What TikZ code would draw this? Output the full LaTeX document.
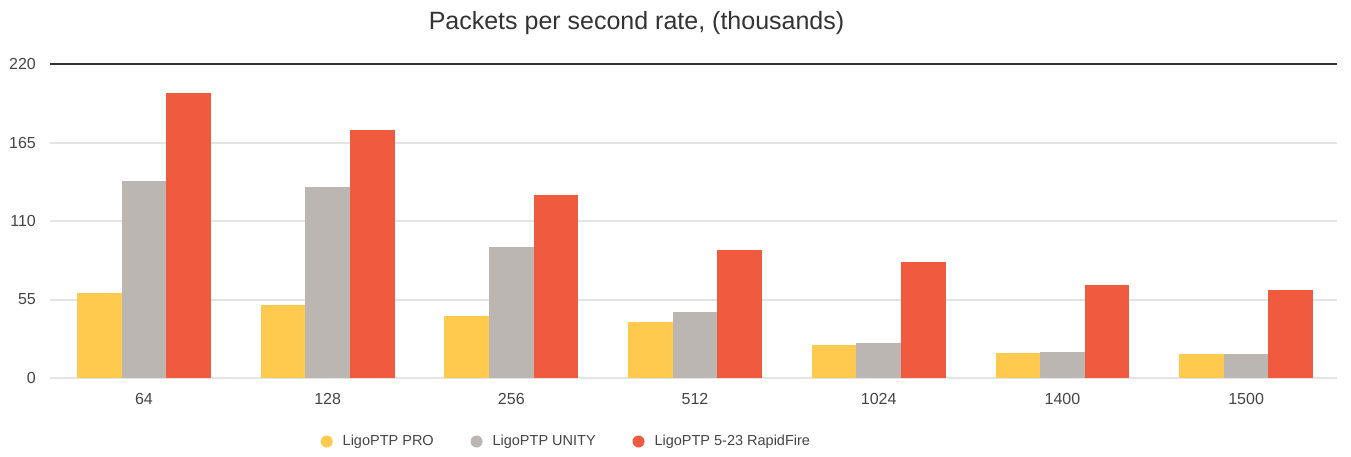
\documentclass[tikz,border=0pt]{standalone}
\usepackage{fontspec}
\setmainfont{Liberation Sans}
\usetikzlibrary{positioning}
\definecolor{proyellow}{RGB}{255,202,77}
\definecolor{unitygray}{RGB}{187,182,178}
\definecolor{rapidred}{RGB}{240,91,64}
\definecolor{gridgray}{RGB}{228,228,228}
\definecolor{textgray}{RGB}{68,68,68}

\tikzset{
  gridline/.style={gridgray, line width=2pt},
  topline/.style={black!80, line width=2.2pt},
  ylab/.style={anchor=east, inner sep=0pt, text=textgray, font=\fontsize{16}{18}\selectfont},
  xlab/.style={inner sep=0pt, text=textgray, font=\fontsize{16}{18}\selectfont},
  legdot/.style={circle, minimum size=12pt, inner sep=0pt},
  legtext/.style={inner sep=0pt, text=textgray, font=\fontsize{14.5}{17}\selectfont}
}

\begin{document}
\begin{tikzpicture}[x=1pt, y=-1pt]
\useasboundingbox (0,0) rectangle (1351,456);

%title
\node[text=black!80, font=\fontsize{25}{30}\selectfont] (title) at (636.5,23) {Packets per second rate, (thousands)};

%grid and axis labels
\foreach \v/\n in {0/y0, 55/y55, 110/y110, 165/y165}{
  \draw[gridline] (50,{377.7-1.4218*\v}) -- (1337,{377.7-1.4218*\v});
  \node[ylab] (\n) at (36,{377.7-1.4218*\v}) {\v};
}
\draw[topline] (50,64) -- (1337,64);
\node[ylab] (y220) at (36,64) {220};

%bars
\foreach \i/\a/\b/\c/\lab in {0/59.4/138.5/200/64, 1/51.3/133.9/174.4/128, 2/43.4/92.1/128.5/256, 3/39/46/89.6/512, 4/23/24.2/81.2/1024, 5/17.6/18.3/65.4/1400, 6/16.7/16.9/61.5/1500}{
  \fill[proyellow] ({77+183.7*\i},377.7) rectangle ({77+183.7*\i+44.6},{377.7-1.4218*\a});
  \fill[unitygray] ({77+183.7*\i+44.6},377.7) rectangle ({77+183.7*\i+89.2},{377.7-1.4218*\b});
  \fill[rapidred] ({77+183.7*\i+89.2},377.7) rectangle ({77+183.7*\i+133.8},{377.7-1.4218*\c});
  \node[xlab] (x\i) at ({77+183.7*\i+66.9},399) {\lab};
}

%legend
\node[legdot, fill=proyellow] (dpro) at (326.7,441.5) {};
\node[legtext, right=9.6pt of dpro] (tpro) {LigoPTP PRO};
\node[legdot, fill=unitygray, right=36.4pt of tpro] (dunity) {};
\node[legtext, right=9.6pt of dunity] (tunity) {LigoPTP UNITY};
\node[legdot, fill=rapidred, right=36.4pt of tunity] (drapid) {};
\node[legtext, right=9.6pt of drapid] (trapid) {LigoPTP 5-23 RapidFire};

\end{tikzpicture}
\end{document}
